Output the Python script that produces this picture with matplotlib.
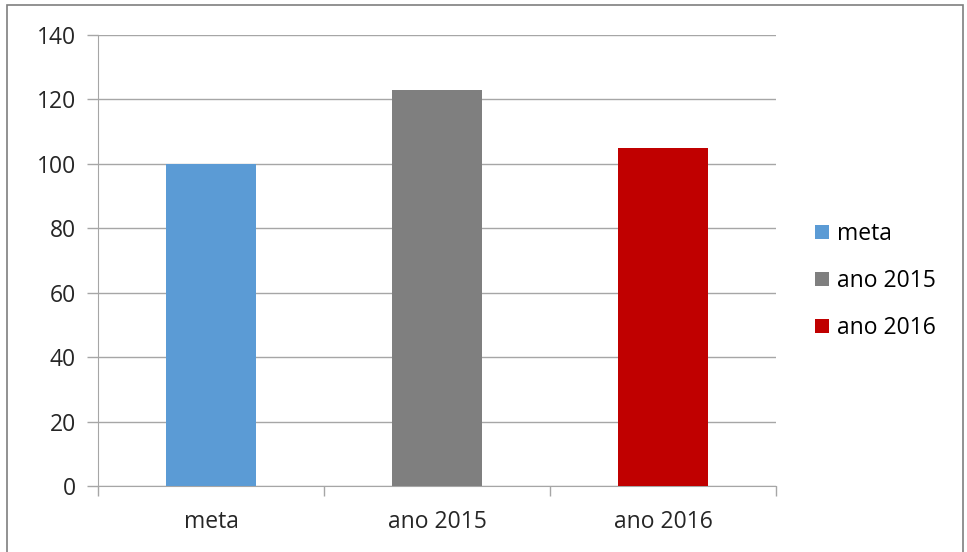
import matplotlib.pyplot as plt
from matplotlib.patches import Rectangle, Patch

categories = ["meta", "ano 2015", "ano 2016"]
values = [100, 123, 105]
colors = ["#5B9BD5", "#7F7F7F", "#C00000"]
yticks = [0, 20, 40, 60, 80, 100, 120, 140]

plt.rcParams['font.family'] = ['Open Sans', 'DejaVu Sans']

W, H = 967, 552
fig = plt.figure(figsize=(W / 100, H / 100), dpi=100)
ax = fig.add_axes([98 / W, 1 - 486 / H, (776 - 98) / W, (486 - 35) / H])

x = list(range(len(categories)))
ax.bar(x, values, width=0.4, color=colors, zorder=3)

ax.set_xlim(-0.5, 2.5)
ax.set_ylim(0, 140)
ax.set_yticks(yticks)
ax.set_yticklabels([str(v) for v in yticks], fontsize=16.5, color="#262626")
ax.yaxis.grid(True, color="#A6A6A6", linewidth=1.0, zorder=0)

# category labels centred, ticks on the boundaries
ax.set_xticks([-0.5, 0.5, 1.5, 2.5])
ax.set_xticklabels([])
ax.set_xticks(x, minor=True)
ax.set_xticklabels(categories, minor=True, fontsize=16.5, color="#262626")
ax.tick_params(axis="x", which="minor", length=0, pad=17)
ax.tick_params(axis="x", which="major", length=7, color="#A6A6A6", width=1)
ax.tick_params(axis="y", length=8, color="#A6A6A6", width=1, pad=8)

for s in ["top", "right"]:
    ax.spines[s].set_visible(False)
ax.spines["left"].set_color("#A6A6A6")
ax.spines["bottom"].set_color("#A6A6A6")

handles = [Patch(facecolor=c, label=l) for c, l in zip(colors, categories)]
fig.legend(handles=handles, loc="upper left", bbox_to_anchor=(806 / W, 1 - 213 / H),
           frameon=False, fontsize=16.5, handlelength=0.6, handleheight=0.6,
           handletextpad=0.35, labelspacing=1.0, borderaxespad=0)

# outer chart border (bottom edge falls below the image)
fig.patches.append(Rectangle((7 / W, -0.05), (963 - 7) / W, 1.05 - 5 / H,
                             transform=fig.transFigure, fill=False,
                             edgecolor="#7F7F7F", linewidth=1.2))

fig.savefig("out.png", dpi=100)
